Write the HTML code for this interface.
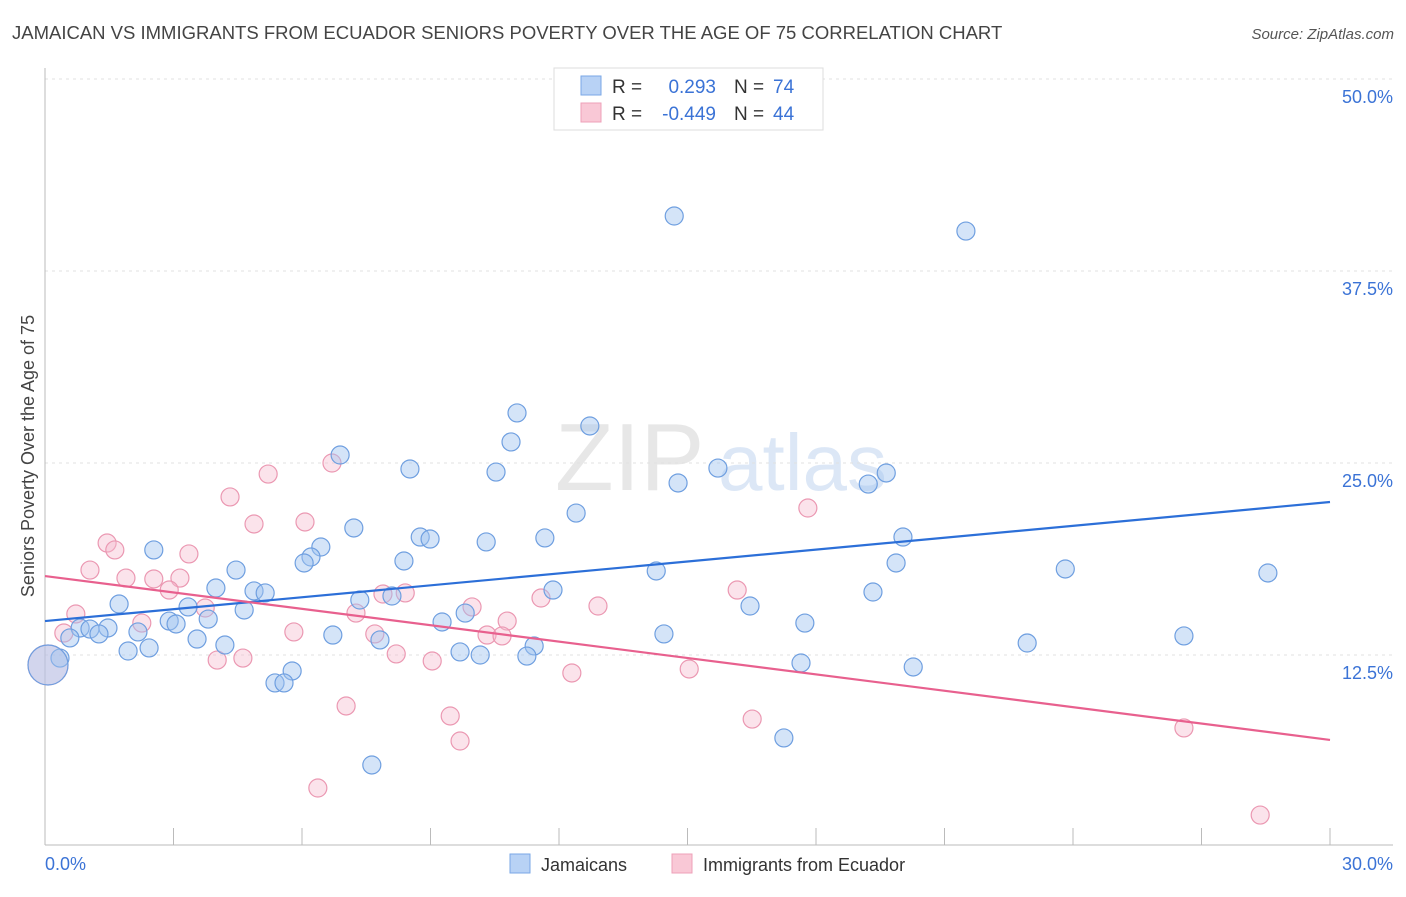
<!DOCTYPE html>
<html><head><meta charset="utf-8"><style>
body{margin:0;background:#fff;font-family:"Liberation Sans",sans-serif;}
svg text{font-family:"Liberation Sans",sans-serif;}
</style></head><body>
<svg id="chart" width="1406" height="892" viewBox="0 0 1406 892" xmlns="http://www.w3.org/2000/svg">
<text x="12" y="39" font-size="18.5" fill="#444">JAMAICAN VS IMMIGRANTS FROM ECUADOR SENIORS POVERTY OVER THE AGE OF 75 CORRELATION CHART</text>
<text x="1394" y="39" font-size="15" fill="#555" text-anchor="end" font-style="italic">Source: ZipAtlas.com</text>
<g opacity="0.35">
<text x="555" y="490" font-size="96" fill="#bbb" font-family="Liberation Serif,serif">ZIP</text>
<text x="718" y="490" font-size="80" fill="#9dbde8">atlas</text>
</g>
<g id="grid"></g>
<g id="axes"></g>
<g id="pts"></g>
<g id="lines"></g>
<text transform="translate(34,456) rotate(-90)" font-size="18" fill="#444" text-anchor="middle">Seniors Poverty Over the Age of 75</text>
<text x="45" y="870" font-size="18" fill="#3b73d6">0.0%</text>
<text x="1393" y="870" font-size="18" fill="#3b73d6" text-anchor="end">30.0%</text>
<g>
<rect x="554" y="68" width="269" height="62" fill="#fff" stroke="#ddd"/>
<rect x="581" y="76" width="20" height="19" fill="#b8d2f5" stroke="#7aa7e6"/>
<rect x="581" y="103" width="20" height="19" fill="#f9c8d6" stroke="#eea0b8"/>
<text x="612" y="93" font-size="19" fill="#333">R =</text>
<text x="716" y="93" font-size="19" fill="#3b73d6" text-anchor="end">0.293</text>
<text x="734" y="93" font-size="19" fill="#333">N =</text>
<text x="773" y="93" font-size="19" fill="#3b73d6">74</text>
<text x="612" y="120" font-size="19" fill="#333">R =</text>
<text x="716" y="120" font-size="19" fill="#3b73d6" text-anchor="end">-0.449</text>
<text x="734" y="120" font-size="19" fill="#333">N =</text>
<text x="773" y="120" font-size="19" fill="#3b73d6">44</text>
</g>
<g>
<rect x="510" y="854" width="20" height="19" fill="#b8d2f5" stroke="#7aa7e6"/>
<text x="541" y="871" font-size="18" fill="#333">Jamaicans</text>
<rect x="672" y="854" width="20" height="19" fill="#f9c8d6" stroke="#eea0b8"/>
<text x="703" y="871" font-size="18" fill="#333">Immigrants from Ecuador</text>
</g>
</svg>
<script>
const yTicks=[12.5,25,37.5,50];
const yTickLabels=["12.5%","25.0%","37.5%","50.0%"];
const xTicks=[0,3,6,9,12,15,18,21,24,27,30];
const blueX=[14.69,21.50,11.02,12.72,10.88,6.89,8.52,10.53,15.71,14.78,19.22,19.64,12.40,7.21,8.76,8.99,11.67,10.30,20.03,2.54,6.44,6.21,6.05,8.38,19.87,14.27,23.82,28.55,4.46,3.99,4.88,5.14,19.33,11.86,1.73,3.34,7.35,8.10,16.46,4.65,9.81,3.81,2.90,3.06,9.27,17.74,2.17,0.82,1.47,1.05,1.26,0.58,6.72,14.45,26.59,22.93,3.55,4.20,7.82,11.42,1.94,2.43,9.69,10.16,11.25,0.35,5.77,17.65,20.27,5.37,5.58,17.25,7.63,0.07];
const blueY=[41.08,40.10,28.26,27.41,26.37,25.52,24.61,24.41,24.67,23.70,23.63,24.35,21.74,20.77,20.18,20.05,20.12,19.86,20.18,19.34,19.53,18.88,18.49,18.62,18.49,17.97,18.10,17.84,18.03,16.86,16.67,16.54,16.60,16.73,15.82,15.63,16.08,16.34,15.69,15.43,15.23,14.84,14.71,14.52,14.65,14.58,14.00,14.26,14.26,14.19,13.87,13.61,13.80,13.87,13.74,13.28,13.54,13.15,13.48,13.09,12.76,12.96,12.70,12.50,12.43,12.30,11.46,11.98,11.72,10.68,10.68,7.10,5.34,11.85];
const pinkX=[0.07,5.21,6.70,17.81,4.32,4.88,6.07,1.45,1.63,3.36,1.05,1.89,2.54,3.15,2.90,7.89,8.41,11.58,12.91,16.16,0.72,3.74,7.26,9.97,10.79,2.26,0.44,5.81,7.70,10.32,10.67,8.20,4.02,4.62,9.04,12.30,15.04,7.03,9.46,9.69,16.51,26.59,6.37,28.37];
const pinkY=[11.85,24.28,25.00,22.07,22.79,21.03,21.16,19.79,19.34,19.08,18.03,17.51,17.45,17.51,16.73,16.47,16.54,16.21,15.69,16.73,15.17,15.56,15.23,15.63,14.71,14.58,13.93,14.00,13.87,13.80,13.74,12.57,12.17,12.30,12.11,11.33,11.59,9.18,8.53,6.90,8.33,7.75,3.84,2.08];
const blueTrend=[14.71,22.46];
const pinkTrend=[17.64,6.97];
const NS="http://www.w3.org/2000/svg";
const X0=45,X1=1330,Y0=847,PPU=15.36;
const sx=v=>X0+v/30*(X1-X0);
const sy=v=>Y0-v*PPU;
function mk(tag,attrs,parent){const e=document.createElementNS(NS,tag);for(const k in attrs)e.setAttribute(k,attrs[k]);parent.appendChild(e);return e;}
const grid=document.getElementById('grid'),axes=document.getElementById('axes');
yTicks.forEach((t,i)=>{
 const l=mk('line',{x1:45,x2:1393,y1:sy(t),y2:sy(t),stroke:'#e0e0e0','stroke-dasharray':'3,4'},grid);
 
 
 const tx=mk('text',{x:1393,y:sy(t)+24,'font-size':18,fill:'#3b73d6','text-anchor':'end'},grid);
 tx.textContent=yTickLabels[i];
 
 
});
const ya=mk('line',{x1:45,x2:45,y1:68,y2:845,stroke:'#bbb'},axes);


const xa=mk('line',{x1:45,x2:1393,y1:845,y2:845,stroke:'#bbb'},axes);


xTicks.forEach(t=>{
 const l=mk('line',{x1:sx(t),x2:sx(t),y1:828,y2:845,stroke:'#bbb'},axes);
 
 
});
const pts=document.getElementById('pts');
function drawPts(xs,ys,fill,stroke,name,bigIdx){
 xs.forEach((x,i)=>{
  const big=(i===bigIdx);
  const c=mk('circle',{cx:sx(x),cy:sy(ys[i]),r:big?20:9,fill:fill,stroke:stroke,'stroke-width':1.2},pts);
  
  
 });
}
drawPts(pinkX,pinkY,'rgba(246,184,204,0.4)','#eb98b2','ecuador-point',0);
drawPts(blueX,blueY,'rgba(160,196,240,0.45)','#6f9fe0','jamaican-point',blueX.length-1);
const lines=document.getElementById('lines');
const bl=mk('line',{x1:sx(0),x2:sx(30),y1:sy(blueTrend[0]),y2:sy(blueTrend[1]),stroke:'#2c6fd8','stroke-width':2.2},lines);


const pl=mk('line',{x1:sx(0),x2:sx(30),y1:sy(pinkTrend[0]),y2:sy(pinkTrend[1]),stroke:'#e8608e','stroke-width':2.2},lines);


</script>
</body></html>
